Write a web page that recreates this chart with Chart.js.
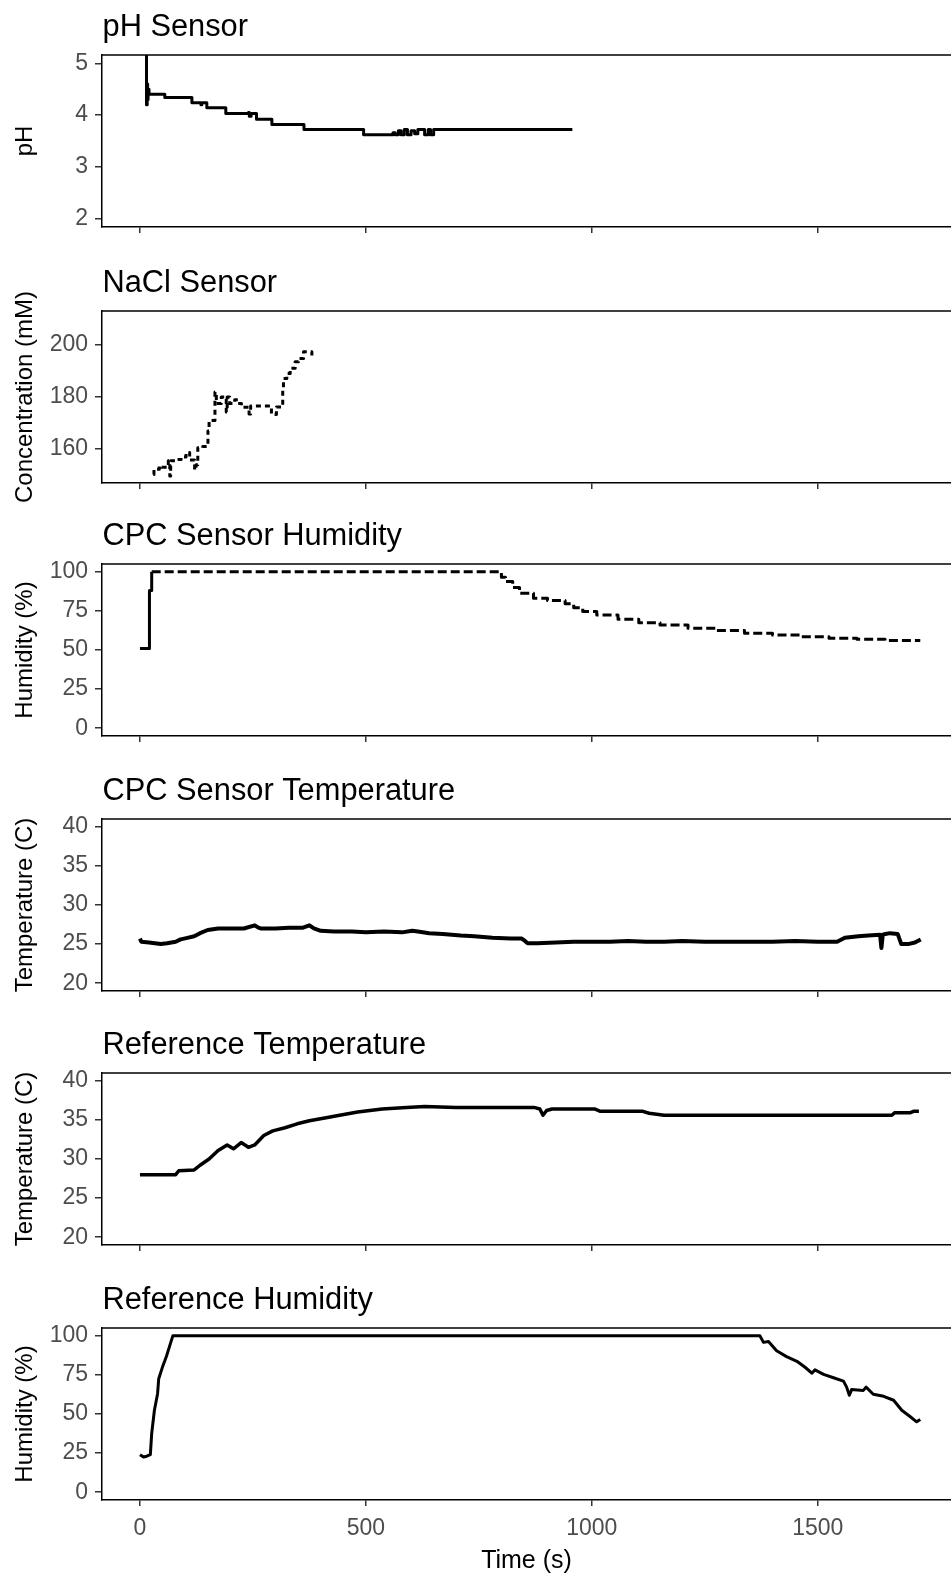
<!DOCTYPE html>
<html>
<head>
<meta charset="utf-8">
<title>Sensor panels</title>
<script src="https://cdn.jsdelivr.net/npm/chart.js@4.4.1/dist/chart.umd.min.js"></script>
<style>
    body { margin: 0; background: #fff; width: 951px; height: 1578px; position: relative; overflow: hidden; }
    .panel { position: absolute; left: 0; width: 951px; }
</style>
</head>
<body>
<script>
// shared x axis
const xTicks = [0, 500, 1000, 1500];

// pH sensor
const phTime  = [12, 14.5, 16, 17, 18, 20, 55, 115, 135, 137, 148, 190, 240, 242, 246, 258, 292, 363, 495, 560, 565, 572, 578, 585, 592, 600, 608, 615, 630, 638, 643, 650, 957];
const phValue = [5.4, 4.2, 4.6, 4.3, 4.5, 4.4, 4.34, 4.24, 4.2, 4.24, 4.14, 4.03, 4.05, 3.98, 4.03, 3.92, 3.82, 3.72, 3.62, 3.66, 3.62, 3.7, 3.62, 3.72, 3.62, 3.7, 3.64, 3.72, 3.62, 3.72, 3.62, 3.72, 3.72];
const phTicks = [2, 3, 4, 5];

// NaCl sensor
const naclTime  = [29.5, 31, 42.8, 48, 62.7, 66, 68, 80, 91, 102, 110, 121, 124, 128, 139, 150.5, 153, 166, 169, 180, 191, 193, 198.6, 209.7, 217, 224.6, 241.5, 245, 291, 302, 316, 317.6, 325, 332.5, 343.5, 351, 362, 380.5, 382];
const naclValue = [150.3, 152.3, 153.5, 153, 155.5, 149.7, 155.5, 156, 157, 158.7, 155.8, 152, 154, 160.5, 161, 167, 171, 181.9, 177.5, 180, 174.2, 180, 177.5, 178.9, 177.5, 176.1, 173.5, 176.5, 173.3, 176.2, 183.2, 187.1, 189, 191, 193.5, 194.8, 197.4, 195.5, 195.5];
const naclTicks = [160, 180, 200];

// CPC sensor humidity
const cpcHumTime  = [0, 21, 26, 786, 800, 809, 825, 840, 871, 902, 941, 960, 980, 1011, 1058, 1104, 1151, 1213, 1275, 1338, 1400, 1462, 1525, 1587, 1649, 1727];
const cpcHumValue = [51, 88, 100, 100, 96.5, 93.8, 90, 86.3, 83.1, 81.6, 79.5, 77, 74.6, 72.4, 69.7, 67.5, 66, 63.9, 62.4, 60.7, 59.6, 58.5, 57.5, 56.8, 56, 56];
const humTicks = [0, 25, 50, 75, 100];

// CPC sensor temperature
const cpcTempTime  = [0, 3, 20, 46, 60, 79, 90, 105, 120, 133, 150, 173, 200, 230, 254, 262, 267, 300, 330, 361, 375, 385, 400, 430, 469, 500, 540, 580, 603, 615, 640, 670, 690, 710, 740, 780, 820, 845, 852, 858, 880, 920, 960, 1000, 1040, 1080, 1120, 1160, 1200, 1250, 1301, 1350, 1400, 1450, 1500, 1543, 1560, 1590, 1612, 1638, 1641, 1644, 1650, 1660, 1677, 1685, 1700, 1715, 1728];
const cpcTempValue = [25.7, 25.3, 25.2, 25.0, 25.1, 25.3, 25.6, 25.8, 26.0, 26.4, 26.8, 27.0, 27.0, 27.0, 27.4, 27.1, 27.0, 27.0, 27.1, 27.1, 27.4, 27.0, 26.7, 26.6, 26.6, 26.5, 26.6, 26.5, 26.7, 26.6, 26.4, 26.3, 26.2, 26.1, 26.0, 25.8, 25.7, 25.7, 25.4, 25.1, 25.1, 25.2, 25.3, 25.3, 25.3, 25.4, 25.3, 25.3, 25.4, 25.3, 25.3, 25.3, 25.3, 25.4, 25.3, 25.3, 25.8, 26.0, 26.1, 26.2, 24.5, 26.2, 26.3, 26.4, 26.3, 25.0, 25.0, 25.2, 25.6];
const tempTicks = [20, 25, 30, 35, 40];

// reference temperature
const refTempTime  = [0, 79, 86, 120, 133, 153, 173, 193, 207, 224, 240, 254, 274, 294, 321, 348, 375, 415, 442, 482, 536, 590, 630, 700, 760, 872, 885, 892, 900, 912, 1006, 1019, 1113, 1127, 1160, 1664, 1670, 1704, 1712, 1724];
const refTempValue = [28.0, 28.0, 28.5, 28.6, 29.2, 30.0, 31.1, 31.8, 31.3, 32.1, 31.5, 31.8, 33.0, 33.6, 34.0, 34.5, 34.9, 35.3, 35.6, 36.0, 36.4, 36.6, 36.7, 36.6, 36.6, 36.6, 36.4, 35.6, 36.2, 36.4, 36.4, 36.1, 36.1, 35.85, 35.6, 35.6, 35.9, 35.9, 36.1, 36.1];

// reference humidity
const refHumTime  = [0, 8, 15, 23, 26, 32, 39, 41.5, 49.8, 55, 59, 66, 72.7, 1372, 1380, 1391, 1409, 1431, 1454, 1472, 1487, 1494, 1513, 1535, 1557, 1564, 1570, 1575, 1601, 1607, 1623, 1646, 1668, 1686, 1705, 1719, 1727];
const refHumValue = [24, 22.5, 23, 24, 37.6, 52.4, 63, 72.5, 80, 84, 87.3, 93.7, 100, 100, 95.8, 96.4, 90.5, 86.7, 83.7, 79.9, 76.1, 78.2, 75.3, 73.2, 71, 67.2, 62, 65.6, 65.1, 67.2, 62.6, 61.3, 58.8, 52.4, 48.2, 45, 46.5];

const FONT = '"Liberation Sans", Arial, sans-serif';
Chart.defaults.font.family = FONT;

// 'before' keeps each value until the next sample (horizontal, then vertical)
const panels = [
    { title: 'pH Sensor', yTitle: 'pH', time: phTime, value: phValue, ticks: phTicks, min: 1.84, max: 5.16, stepped: 'before', width: 3, top: 0, height: 256 },
    { title: 'NaCl Sensor', yTitle: 'Concentration (mM)', time: naclTime, value: naclValue, ticks: naclTicks, min: 147, max: 213, stepped: 'before', dash: [5, 4], width: 3, top: 256, height: 253 },
    { title: 'CPC Sensor Humidity', yTitle: 'Humidity (%)', time: cpcHumTime, value: cpcHumValue, ticks: humTicks, min: -5, max: 105, stepped: 'before', dashAfter: 26, width: 3, top: 509, height: 255 },
    { title: 'CPC Sensor Temperature', yTitle: 'Temperature (C)', time: cpcTempTime, value: cpcTempValue, ticks: tempTicks, min: 19, max: 41, stepped: false, width: 4, top: 764, height: 254 },
    { title: 'Reference Temperature', yTitle: 'Temperature (C)', time: refTempTime, value: refTempValue, ticks: tempTicks, min: 19, max: 41, stepped: false, width: 3.5, top: 1018, height: 255 },
    { title: 'Reference Humidity', yTitle: 'Humidity (%)', time: refHumTime, value: refHumValue, ticks: humTicks, min: -5, max: 105, stepped: false, width: 3, top: 1273, height: 305 }
];

// top border + panel title, drawn relative to the chart area
const frame = {
    id: 'frame',
    afterDraw(chart, args, opts) {
        const { ctx, chartArea: a } = chart;
        ctx.save();
        ctx.strokeStyle = '#000';
        ctx.lineWidth = 1.5;
        ctx.beginPath();
        ctx.moveTo(a.left, a.top);
        ctx.lineTo(a.right, a.top);
        ctx.stroke();
        ctx.fillStyle = '#000';
        ctx.font = '30.8px ' + FONT;
        ctx.textAlign = 'left';
        ctx.textBaseline = 'alphabetic';
        ctx.fillText(opts.text, a.left + 0.5, a.top - 19);
        ctx.restore();
    }
};

panels.forEach((p, i) => {
    const last = i === panels.length - 1;
    const wrap = document.createElement('div');
    wrap.className = 'panel';
    wrap.style.top = p.top + 'px';
    wrap.style.height = p.height + 'px';
    const canvas = document.createElement('canvas');
    wrap.appendChild(canvas);
    document.body.appendChild(wrap);

    const dataset = {
        data: p.time.map((t, k) => ({ x: t, y: p.value[k] })),
        borderColor: '#000',
        borderWidth: p.width,
        borderJoinStyle: 'round',
        pointRadius: 0,
        stepped: p.stepped,
        tension: 0,
        clip: 0
    };
    if (p.dash) dataset.borderDash = p.dash;
    if (p.dashAfter !== undefined) {
        dataset.segment = { borderDash: ctx => ctx.p0.parsed.x >= p.dashAfter ? [9, 4] : undefined };
    }

    new Chart(canvas, {
        type: 'line',
        data: { datasets: [dataset] },
        options: {
            responsive: true,
            maintainAspectRatio: false,
            animation: false,
            events: [],
            layout: { padding: { top: 55, left: 0, right: 0, bottom: 0 } },
            plugins: {
                legend: { display: false },
                tooltip: { enabled: false },
                frame: { text: p.title }
            },
            scales: {
                x: {
                    type: 'linear',
                    min: -84,
                    max: 1795,
                    afterBuildTicks: s => { s.ticks = xTicks.map(v => ({ value: v })); },
                    afterFit: s => { s.height = p.height - 227; },
                    grid: { drawOnChartArea: false, drawTicks: true, tickLength: 6, color: '#333', lineWidth: 1.5 },
                    border: { display: true, color: '#000', width: 1.5 },
                    ticks: { display: last, color: '#4D4D4D', font: { size: 23, lineHeight: 1 }, padding: 11, maxRotation: 0, callback: v => String(v) },
                    title: { display: last, text: 'Time (s)', color: '#000', font: { size: 25, lineHeight: 1 }, padding: { top: 0, bottom: 4 } }
                },
                y: {
                    min: p.min,
                    max: p.max,
                    afterBuildTicks: s => { s.ticks = p.ticks.map(v => ({ value: v })); },
                    afterFit: s => { s.width = 102; },
                    grid: { drawOnChartArea: false, drawTicks: true, tickLength: 7, color: '#333', lineWidth: 1.5 },
                    border: { display: true, color: '#000', width: 1.5 },
                    ticks: { color: '#4D4D4D', font: { size: 23, lineHeight: 1 }, padding: 7, callback: v => String(v) },
                    title: { display: true, text: p.yTitle, color: '#000', font: { size: 24, lineHeight: 1 }, padding: { top: 13, bottom: 0 } }
                }
            }
        },
        plugins: [frame]
    });
});
</script>
</body>
</html>
